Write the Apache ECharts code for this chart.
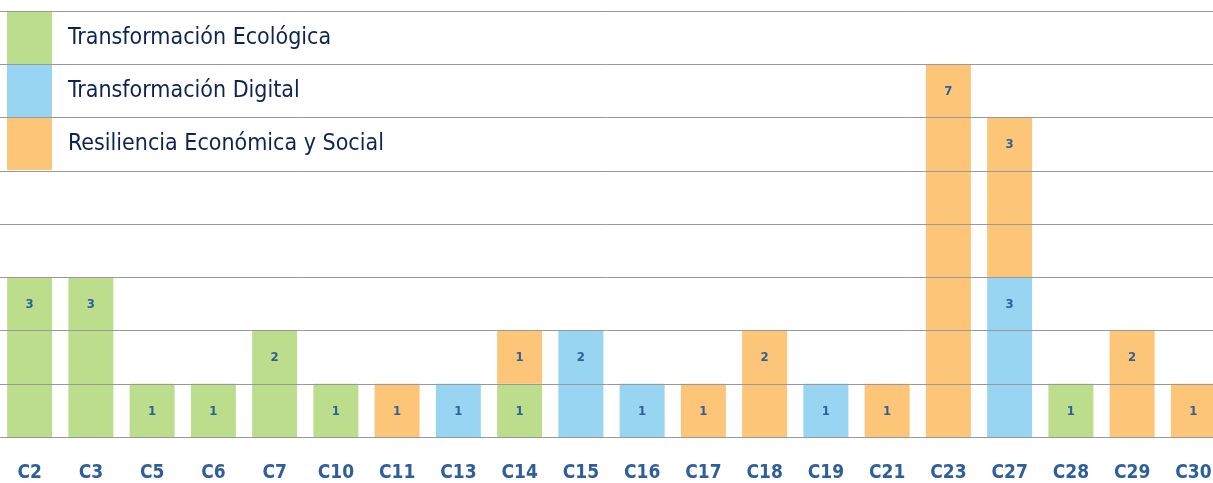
<!DOCTYPE html>
<html>
<head>
<meta charset="utf-8">
<script src="https://cdn.jsdelivr.net/npm/echarts@6/dist/echarts.min.js"></script>
<style>
    html, body { margin: 0; padding: 0; background: #fff; }
    #chart { width: 1213px; height: 483px; }
</style>
</head>
<body>
<div id="chart"></div>
<script>
const categories = ['C2', 'C3', 'C5', 'C6', 'C7', 'C10', 'C11', 'C13', 'C14', 'C15',
    'C16', 'C17', 'C18', 'C19', 'C21', 'C23', 'C27', 'C28', 'C29', 'C30'];

// null = sin barra para ese componente
const ecologica = [3, 3, 1, 1, 2, 1, null, null, 1, null, null, null, null, null, null, null, null, 1, null, null];
const digital = [null, null, null, null, null, null, null, 1, null, 2, 1, null, null, 1, null, null, 3, null, null, null];
const resiliencia = [null, null, null, null, null, null, 1, null, 1, null, null, 1, 2, null, 1, 7, 3, null, 2, 1];

const seriesNames = ['Transformación Ecológica', 'Transformación Digital', 'Resiliencia Económica y Social'];
const colors = ['#bcdd8b', '#97d5f2', '#fcc578'];

const font = '"Liberation Sans Narrow", "DejaVu Sans Condensed", "Roboto", sans-serif';

const chart = echarts.init(document.getElementById('chart'));

function barSeries(name, data, color) {
    return {
        name: name,
        type: 'bar',
        stack: 'total',
        barWidth: 45,
        data: data,
        itemStyle: { color: color },
        label: {
            show: true,
            position: 'insideTop',
            distance: 21,
            fontFamily: font,
            fontSize: 13,
            fontWeight: 'bold',
            color: '#2f5f98'
        }
    };
}

const option = {
    animation: false,
    grid: {
        left: -1,
        right: -11,
        top: 11,
        bottom: 46,
        outerBoundsMode: 'none'
    },
    legend: {
        orient: 'vertical',
        left: 7,
        top: 12,
        padding: 0,
        icon: 'rect',
        itemWidth: 45,
        itemHeight: 52,
        itemGap: 1,
        selectedMode: false,
        textStyle: {
            fontFamily: font,
            fontSize: 23,
            color: '#0d2353',
            padding: [0, 0, 0, 11]
        },
        data: seriesNames
    },
    xAxis: {
        type: 'category',
        data: categories,
        axisTick: { show: false },
        axisLine: { lineStyle: { color: '#999999', width: 1 } },
        axisLabel: {
            interval: 0,
            margin: 27,
            fontFamily: font,
            fontSize: 19,
            fontWeight: 'bold',
            color: '#2e5e9c'
        }
    },
    yAxis: {
        type: 'value',
        min: 0,
        max: 8,
        interval: 1,
        z: 10,
        axisLabel: { show: false },
        axisLine: { show: false },
        axisTick: { show: false },
        splitLine: { lineStyle: { color: '#999999', width: 1 } }
    },
    series: [
        barSeries(seriesNames[0], ecologica, colors[0]),
        barSeries(seriesNames[1], digital, colors[1]),
        barSeries(seriesNames[2], resiliencia, colors[2])
    ]
};

chart.setOption(option);
</script>
</body>
</html>
